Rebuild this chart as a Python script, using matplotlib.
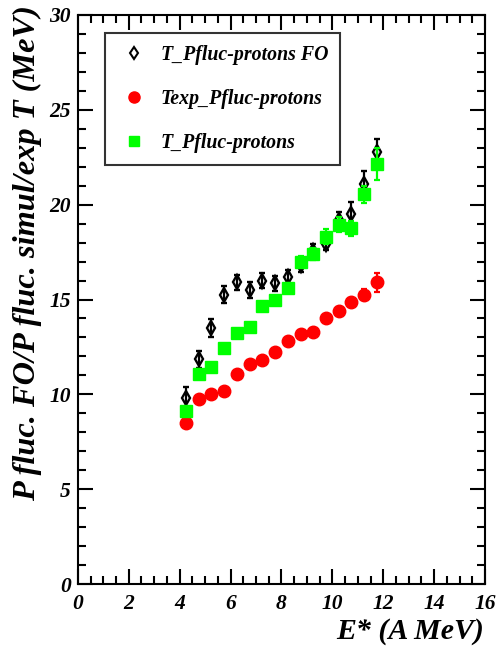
import matplotlib
matplotlib.use("Agg")
import matplotlib.pyplot as plt
from matplotlib.lines import Line2D
from matplotlib.ticker import MultipleLocator

# energie d'excitation (A MeV)
e_star = [4.25, 4.75, 5.25, 5.75, 6.25, 6.75, 7.25, 7.75,
          8.25, 8.75, 9.25, 9.75, 10.25, 10.75, 11.25, 11.75]

# T_Pfluc-protons FO
t_fo = [9.8, 11.85, 13.5, 15.25, 15.9, 15.5, 16.0, 15.85,
        16.2, 16.8, 17.55, 17.95, 19.2, 19.5, 21.1, 22.8]
t_fo_err = [0.6, 0.45, 0.45, 0.45, 0.4, 0.4, 0.4, 0.4,
            0.35, 0.35, 0.4, 0.35, 0.4, 0.65, 0.7, 0.65]

# Texp_Pfluc-protons
t_exp = [8.5, 9.75, 10.0, 10.2, 11.1, 11.6, 11.8, 12.25,
         12.8, 13.2, 13.3, 14.0, 14.4, 14.85, 15.25, 15.9]
t_exp_err = [0.15, 0.15, 0.15, 0.15, 0.15, 0.15, 0.15, 0.15,
             0.2, 0.2, 0.2, 0.2, 0.2, 0.25, 0.3, 0.5]

# T_Pfluc-protons
t_sim = [9.1, 11.1, 11.45, 12.45, 13.25, 13.55, 14.65, 15.0,
         15.6, 17.0, 17.4, 18.3, 18.95, 18.75, 20.55, 22.15]
t_sim_err = [0.25, 0.25, 0.2, 0.2, 0.2, 0.2, 0.2, 0.2,
             0.25, 0.3, 0.3, 0.4, 0.4, 0.4, 0.45, 0.85]

labels = ["T_Pfluc-protons FO", "Texp_Pfluc-protons", "T_Pfluc-protons"]

font = {"family": "Liberation Serif", "weight": "bold", "style": "italic"}

fig = plt.figure(figsize=(4.96, 6.49), dpi=100)
ax = fig.add_axes([0.157, 0.100, 0.821, 0.877])

ax.errorbar(e_star, t_fo, yerr=t_fo_err, fmt="d", color="black", mfc="none",
            ms=7.5, mew=1.7, elinewidth=1.6, capsize=2.5, capthick=1.6, zorder=2)
ax.errorbar(e_star, t_exp, yerr=t_exp_err, fmt="o", color="#ff0000",
            ms=9, elinewidth=1.6, capsize=2.5, capthick=1.6, zorder=3)
ax.errorbar(e_star, t_sim, yerr=t_sim_err, fmt="s", color="#00ff00",
            ms=8.5, elinewidth=1.6, capsize=2.5, capthick=1.6, zorder=4)

ax.set_xlim(0, 16)
ax.set_ylim(0, 30)
ax.xaxis.set_major_locator(MultipleLocator(2))
ax.xaxis.set_minor_locator(MultipleLocator(0.5))
ax.yaxis.set_major_locator(MultipleLocator(5))
ax.yaxis.set_minor_locator(MultipleLocator(1))
ax.tick_params(which="both", direction="in", top=True, right=True, width=1.5)
ax.tick_params(which="major", length=11)
ax.tick_params(which="minor", length=5.5)
ax.tick_params(axis="x", which="major", pad=7)
ax.tick_params(axis="y", which="major", pad=5)
for s in ax.spines.values():
    s.set_linewidth(1.5)

for lab in ax.get_xticklabels() + ax.get_yticklabels():
    lab.set_fontproperties(font)
    lab.set_fontsize(15.5)

ax.set_ylabel("P fluc. FO/P fluc. simul/exp T (MeV)", fontsize=23.3, **font)
ax.yaxis.label.set_rotation_mode("anchor")
ax.yaxis.label.set_ha("right")
ax.yaxis.label.set_va("center")
ax.yaxis.set_label_coords(-0.123, 1.017)
ax.set_xlabel("E* (A MeV)", fontsize=21.5, **font)
ax.xaxis.set_label_coords(0.997, -0.06)
ax.xaxis.label.set_ha("right")

# legende
handles = [
    Line2D([], [], ls="none", marker="d", color="black", mfc="none", ms=6, mew=1.5),
    Line2D([], [], ls="none", marker="o", color="#ff0000", ms=8),
    Line2D([], [], ls="none", marker="s", color="#00ff00", ms=7),
]
leg = ax.legend(handles, labels, loc="upper left", bbox_to_anchor=(0.067, 0.968),
                prop={**font, "size": 14.3}, frameon=True, fancybox=False,
                edgecolor="black", borderpad=0.6, labelspacing=1.2,
                handlelength=1.7, handletextpad=0.5, borderaxespad=0)
leg.get_frame().set_linewidth(1.5)

plt.savefig("out.png", dpi=100)
plt.close()
